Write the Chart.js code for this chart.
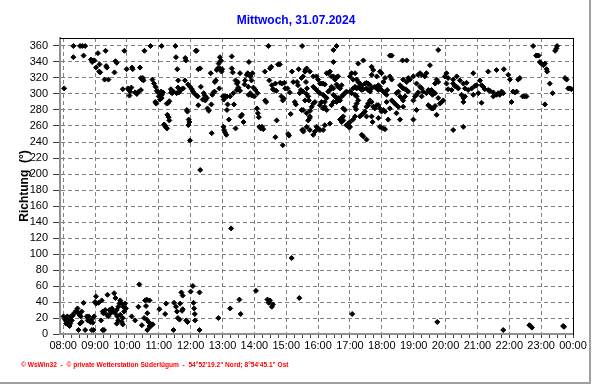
<!DOCTYPE html>
<html>
<head>
<meta charset="utf-8">
<script src="https://cdn.jsdelivr.net/npm/chart.js@4/dist/chart.umd.min.js"></script>
<style>
  body { margin: 0; background: #fff; }
  canvas { display: block; }
</style>
</head>
<body>
<canvas id="chart" width="592" height="384"></canvas>
<script>
// Windrichtung, Zeit in Stunden (dezimal), Richtung in Grad
const titel = 'Mittwoch, 31.07.2024';
const fusszeile = '\u00a9 WsWin32  -  \u00a9 private Wetterstation S\u00fcderl\u00fcgum  -  54\u00b052\'19.2" Nord; 8\u00b054\'45.1" Ost';
const stunden = ['08:00', '09:00', '10:00', '11:00', '12:00', '13:00', '14:00', '15:00', '16:00',
  '17:00', '18:00', '19:00', '20:00', '21:00', '22:00', '23:00', '00:00'];
const richtungTicks = [0, 20, 40, 60, 80, 100, 120, 140, 160, 180, 200, 220, 240, 260, 280, 300, 320, 340, 360];

const werteVormittag = [
  [8.03,307],[8.32,360],[8.53,360],[8.60,360],[8.69,360],[8.32,346],[8.64,348],[8.87,343],[8.93,342],[8.98,342],
  [8.91,340],[9.03,333],[9.09,351],[9.14,337],[9.13,328],[9.16,327],[9.33,354],[9.35,335],[9.37,333],[9.30,318],
  [9.42,318],[9.61,327],[9.64,341],[9.68,339],[9.92,354],[9.87,306],[9.99,331],[10.03,307],[10.07,305],[10.10,303],
  [10.08,298],[10.14,308],[10.16,333],[10.18,331],[10.26,302],[10.31,300],[10.37,303],[10.44,305],[10.41,333],[10.44,320],
  [10.48,318],[10.52,317],[10.50,320],[10.55,354],[10.74,360],[10.80,318],[10.85,313],[10.90,309],[10.94,304],[10.98,302],
  [10.89,290],[10.92,288],[11.04,301],[11.07,303],[11.10,299],[11.09,295],[11.13,302],[11.00,297],[11.04,293],[11.09,360],
  [11.25,288],[11.30,289],[11.33,291],[11.27,274],[11.31,271],[11.33,267],[11.17,262],[11.20,260],[11.23,258],[11.26,257],
  [11.38,306],[11.39,302],[11.42,301],[11.46,303],[11.52,360],[11.54,346],[11.58,331],[11.61,317],[11.60,308],[11.56,301],
  [11.63,302],[11.67,304],[11.71,306],[11.77,307],[11.82,317],[11.83,345],[11.85,342],[11.88,280],[11.90,278],[11.94,268],
  [11.96,265],[11.93,261],[11.98,242],[11.92,312],[11.98,309],[12.04,306],[12.07,303],[12.11,301],[12.16,354],[12.19,354],
  [12.19,298],[12.22,297],[12.24,331],[12.30,332],[12.32,309],[12.38,293],[12.41,301],[12.44,298],[12.46,292],[12.51,295],
  [12.53,282],[12.57,279],[12.66,251],[12.63,326],[12.65,287],[12.68,299],[12.72,302],[12.75,303],[12.76,315],[12.79,317],
  [12.82,330],[12.85,332],[12.88,338],[12.92,346],[12.95,342],[12.92,332],[12.97,328],[12.99,331],[12.90,307],[13.01,297],
  [13.04,293],[13.08,297],[13.14,297],[13.03,259],[13.05,255],[13.08,252],[13.12,249],[13.14,280],[13.16,287],[13.20,268],
  [13.24,297],[13.29,347],[13.29,332],[13.32,327],[13.34,301],[13.36,287],[13.41,317],[13.45,313],[13.48,315],[13.41,257],
  [13.55,326],[13.55,304],[13.57,272],[13.61,274],[13.66,265],[13.71,317],[13.69,312],[13.76,324],[13.79,326],[13.83,340],
  [13.87,322],[13.91,317],[13.94,326],[13.81,309],[13.82,299],[13.87,301],[13.92,298],[14.00,297],[13.97,308],[14.03,305],
  [14.10,301],[14.08,282],[14.11,276],[14.14,271],[14.16,259],[14.20,257],[14.24,259],[14.28,256],[14.33,328],[14.34,292],
  [14.37,290],[14.44,360],[14.49,332],[14.47,317],[14.53,334],[14.55,311],[14.58,306],[14.62,305],[14.66,313],[14.69,304],
  [14.70,267],[14.66,246],[14.74,337],[14.80,337],[14.81,314],[14.85,297],[14.89,292],[14.93,294],[14.87,313],[14.94,314],
  [14.89,236],[14.97,307],[15.04,307],[15.06,250],[15.09,248],[15.11,302],[15.14,275],[15.18,328],[15.22,315],[15.27,290],
  [15.30,287],[15.34,315],[15.37,311],[15.39,331],[15.42,301],[15.46,305],[15.48,280],[15.50,360],[15.50,255],[15.54,253],
  [15.60,330],[15.62,315],[15.65,307],[15.71,292],[15.74,270],[15.75,279],[12.24,286],[13.45,305],[13.50,308]
];

const werteNachmittag = [
  [16.48,355],[16.58,360],[18.25,348],[18.31,348],[18.65,342],[18.78,342],[19.77,355],[22.75,360],[22.84,348],[22.88,348],
  [22.92,348],[22.96,340],[23.01,338],[23.07,336],[23.12,338],[23.17,331],[23.19,328],[23.44,354],[23.48,357],[23.50,360],
  [23.75,320],[23.80,318],[23.27,313],[23.36,301],[23.12,287],[23.85,307],[23.90,307],[23.95,306],
  [21.34,328],[21.60,330],[21.83,331],[21.97,324],[22.02,318],[22.28,318],[22.33,320],[22.12,303],[22.18,302],[22.23,303],
  [22.42,297],[22.48,297],[22.54,297],[22.07,290],
  [20.87,326],[21.08,317],[21.13,311],[21.18,309],[21.23,306],[21.34,305],[21.39,304],[21.50,302],[21.65,301],[21.76,303],
  [21.81,301],[21.13,289],[21.60,299],[21.70,299],[21.50,297],[21.03,301],
  [20.35,322],[20.45,317],[20.24,318],[20.56,313],[20.66,314],[20.61,307],[20.71,305],[20.82,307],[20.92,310],[20.97,311],
  [20.50,299],[20.56,295],[20.61,297],[20.87,299],[20.56,290],
  [20.03,326],[19.98,322],[20.08,320],[20.24,313],[20.29,310],[20.35,309],[20.40,307],[20.08,306],[20.19,305],[20.24,255],
  [20.56,259],[20.03,313],
  [19.72,318],[19.77,315],[19.67,313],[19.61,303],[19.59,299],[19.67,301],[19.77,295],[19.82,288],[19.88,290],[19.93,292],
  [19.72,274],[19.67,285],[19.61,282],
  [19.40,326],[19.51,336],[19.35,322],[19.14,324],[19.20,326],[19.25,324],[18.99,322],[19.09,313],[19.20,309],[19.25,307],
  [19.30,303],[19.40,301],[19.46,305],[19.51,302],[19.56,305],
  [18.99,292],[19.04,297],[19.09,299],[19.14,302],[19.25,297],[19.09,280],[18.99,268],[19.46,286],[19.51,284],[19.56,282],
  [18.67,318],[18.78,315],[18.83,320],[18.88,318],[18.57,311],[18.62,309],[18.67,307],[18.73,306],[18.78,305],[18.83,303],
  [18.46,301],[18.52,303],[18.57,297],[18.62,295],[18.67,292],[18.73,297],[18.31,292],[18.36,290],[18.41,288],[18.46,286],
  [18.52,284],[18.67,284],[18.25,282],[18.46,276],[18.57,268],[18.20,268],[17.94,259],[18.05,257],[18.10,256],[18.10,278],
  [18.15,290],
  [18.25,322],[18.31,318],[18.10,320],[18.05,315],[17.99,326],[17.94,328],[17.84,322],[17.89,311],[17.94,309],[17.99,305],
  [18.05,303],[18.10,301],[18.15,299],[18.17,305],
  [17.68,334],[17.73,330],[17.68,324],[17.42,342],[17.26,338],[17.16,326],[17.05,326],[17.00,322],[17.10,318],[17.21,318],
  [17.26,315],[17.31,313],[17.37,311],[17.47,313],[17.52,314],[17.57,313],[17.63,311],[17.52,307],[17.57,305],[17.63,303],
  [17.68,307],[17.78,309],[17.84,307],[17.89,305],[17.10,307],[17.16,309],[17.21,307],[17.26,308],[17.31,307],[17.37,305],
  [17.42,306],[17.00,303],[17.05,301],[17.16,299],[17.21,297],[17.26,292],[17.21,288],[17.16,284],[17.19,281],[17.63,292],
  [17.68,290],[17.57,288],[17.52,284],[17.47,278],[17.73,284],[17.78,282],[17.84,286],[17.89,286],[17.94,282],[17.99,278],
  [18.05,280],[17.89,270],[17.71,265],[17.99,258],[17.37,274],[17.31,272],[17.42,276],[17.16,272],[17.10,268],[17.00,265],
  [16.89,261],[16.79,267],[16.74,265],[16.95,263],[16.98,258],[17.00,259],[17.37,249],[17.42,247],[17.52,243],[17.57,286],
  [17.52,272],[17.68,272],
  [16.74,297],[16.79,299],[16.84,301],[16.89,303],[16.63,295],[16.69,292],[16.58,290],[16.79,282],[16.84,280],[16.69,307],
  [16.63,309],[16.74,311],[16.58,312],[16.48,307],[16.42,309],[16.37,305],[16.32,303],[16.48,299],[16.53,297],[16.58,295],
  [16.53,318],[16.58,321],[16.63,322],[16.48,322],[16.42,322],[16.32,326],[16.48,340],[16.37,328],[16.27,326],[16.06,313],
  [16.11,313],[16.16,313],[16.21,312],[16.00,318],[15.95,322],[15.85,322],[15.74,328],[15.64,332],[15.59,328],[15.53,322],
  [15.48,320],[15.85,309],[15.90,307],[15.95,305],[16.00,303],[16.06,301],[16.16,299],[16.21,297],[16.27,295],[16.21,290],
  [16.11,290],[16.06,286],[16.16,282],[16.27,280],[16.21,284],[16.37,263],[16.21,261],[16.16,255],[15.95,259],[16.00,257],
  [16.06,255],[15.90,253],[15.85,249],[15.74,255],[15.64,259],[15.53,255],[15.69,267],[15.74,272],[15.64,276],[15.53,280],
  [15.80,284],[15.85,288],[15.90,290],[15.64,300],[15.69,297],[15.59,292],[15.53,303],[16.42,286],[16.48,290],[16.69,268],
  [16.74,270],[16.79,272]
];

const werteUnten = [
  [8.01,22],[8.06,18],[8.09,13],[8.13,22],[8.17,17],[8.22,13],[8.24,22],[8.30,23],[8.34,26],[8.41,29],
  [8.45,32],[8.48,26],[8.51,24],[8.55,22],[8.58,28],[8.27,17],[8.20,10],[8.48,5],[8.58,15],[8.64,39],
  [8.53,13],[8.69,5],[8.74,22],[8.77,17],[8.80,22],[8.85,15],[8.89,18],[8.93,14],[8.97,22],[8.95,5],
  [8.90,5],[9.03,47],[9.03,38],[9.00,40],[9.11,39],[9.21,42],[9.26,26],[9.24,28],[9.32,30],[9.19,17],
  [9.24,5],[9.28,5],[9.39,49],[9.37,24],[9.42,22],[9.45,30],[9.49,26],[9.53,32],[9.56,28],[9.60,51],
  [9.64,45],[9.63,26],[9.68,30],[9.73,34],[9.77,38],[9.79,42],[9.84,38],[9.89,34],[9.70,22],[9.79,24],
  [9.87,20],[9.87,12],[9.94,38],[9.97,32],[9.91,28],[9.73,17],[9.84,15],[9.68,13],[10.15,22],[10.26,17],
  [10.36,34],[10.39,62],[10.47,11],[10.57,42],[10.62,43],[10.71,42],[10.54,20],[10.62,18],[10.68,15],[10.73,13],
  [10.71,10],[10.64,5],[10.60,35],[10.64,26],[10.73,9],[10.75,11],[10.78,12],[10.81,12],[11.02,31],[11.23,38],
  [11.20,25],[11.46,5],[11.48,39],[11.54,34],[11.57,28],[11.65,18],[11.60,20],[11.67,38],[11.71,52],[11.75,48],
  [11.73,29],[11.75,31],[11.86,17],[11.90,15],[12.00,53],[12.07,60],[12.09,39],[12.11,32],[12.13,25],[12.14,17],
  [12.28,52],[12.28,5],[12.87,20],[13.24,32],[13.53,43],[13.57,25],[14.05,54],[14.41,43],[14.45,39],[14.49,42],
  [14.55,34],[14.58,37],[15.17,95],[15.41,45],[17.07,25],[19.74,15],[21.81,5],[22.63,11],[22.67,10],[22.71,8],
  [23.69,10],[23.72,9],[13.27,132],[12.30,205]
];

const messwerte = werteVormittag.concat(werteNachmittag, werteUnten)
  .map(([zeit, grad]) => ({ x: zeit, y: grad }));

Chart.defaults.font.family = '"Liberation Sans", Arial, sans-serif';
Chart.defaults.color = '#000';

// Rahmen rechts/unten und Fusszeile
const rahmen = {
  id: 'rahmen',
  afterDraw(chart) {
    const ctx = chart.ctx;
    ctx.save();
    ctx.fillStyle = '#a0a0a0';
    ctx.fillRect(589, 0, 2, 383);
    ctx.fillRect(0, 382, 591, 2);
    ctx.fillStyle = '#ff0000';
    ctx.font = 'bold 6.6px "Liberation Sans", Arial, sans-serif';
    ctx.textBaseline = 'middle';
    ctx.fillText(fusszeile, 21, 365);
    ctx.restore();
  }
};

const raster = '#808080';

new Chart(document.getElementById('chart'), {
  type: 'scatter',
  data: {
    datasets: [{
      data: messwerte,
      pointStyle: 'rectRot',
      pointRadius: 2.5,
      pointHoverRadius: 2.5,
      borderWidth: 1,
      backgroundColor: '#000',
      borderColor: '#000',
    }],
  },
  options: {
    responsive: false,
    animation: false,
    events: [],
    layout: { padding: 0 },
    plugins: {
      legend: { display: false },
      tooltip: { enabled: false },
      title: {
        display: true,
        text: titel,
        color: '#0000ff',
        font: { size: 12, weight: 'bold' },
        padding: { top: 13, bottom: 10.6 },
      },
    },
    scales: {
      x: {
        type: 'linear',
        position: 'bottom',
        min: 7.9,
        max: 24,
        afterBuildTicks: (s) => {
          const t = [];
          stunden.forEach((_, i) => {
            for (let q = 0; q < 4; q++) {
              if (i === stunden.length - 1 && q > 0) break;
              t.push({ value: 8 + i + q * 0.25 });
            }
          });
          s.ticks = t;
        },
        afterFit: (s) => { s.height = 50; },
        ticks: {
          autoSkip: false,
          maxRotation: 0,
          padding: 1,
          font: { size: 11 },
          callback: (v) => Number.isInteger(v) ? stunden[v - 8] : '',
        },
        grid: {
          color: (c) => (c.tick && Number.isInteger(c.tick.value)) ? raster : 'rgba(0,0,0,0)',
          tickColor: '#404040',
          tickLength: 4,
        },
        border: { color: '#909090', width: 2, dash: [4, 3] },
      },
      y: {
        type: 'linear',
        position: 'left',
        min: 0,
        max: 370,
        afterBuildTicks: (s) => { s.ticks = richtungTicks.map(v => ({ value: v })); },
        afterFit: (s) => { s.width = 60; },
        ticks: { font: { size: 11 }, padding: 5 },
        grid: { color: raster, tickColor: '#404040', tickLength: 7 },
        border: { color: '#909090', width: 2, dash: [4, 3] },
        title: {
          display: true,
          text: 'Richtung  (\u00b0)',
          font: { size: 12, weight: 'bold' },
          padding: { top: 17, bottom: 0 },
        },
      },
      x2: {
        type: 'linear',
        position: 'top',
        min: 0,
        max: 1,
        ticks: { display: false },
        grid: { display: false },
        border: { color: '#000', width: 1 },
        afterFit: (s) => { s.height = 0; },
      },
      y2: {
        type: 'linear',
        position: 'right',
        min: 0,
        max: 1,
        ticks: { display: false },
        grid: { display: false },
        border: { color: '#000', width: 1 },
        afterFit: (s) => { s.width = 19; },
      },
    },
  },
  plugins: [rahmen],
});
</script>
</body>
</html>
